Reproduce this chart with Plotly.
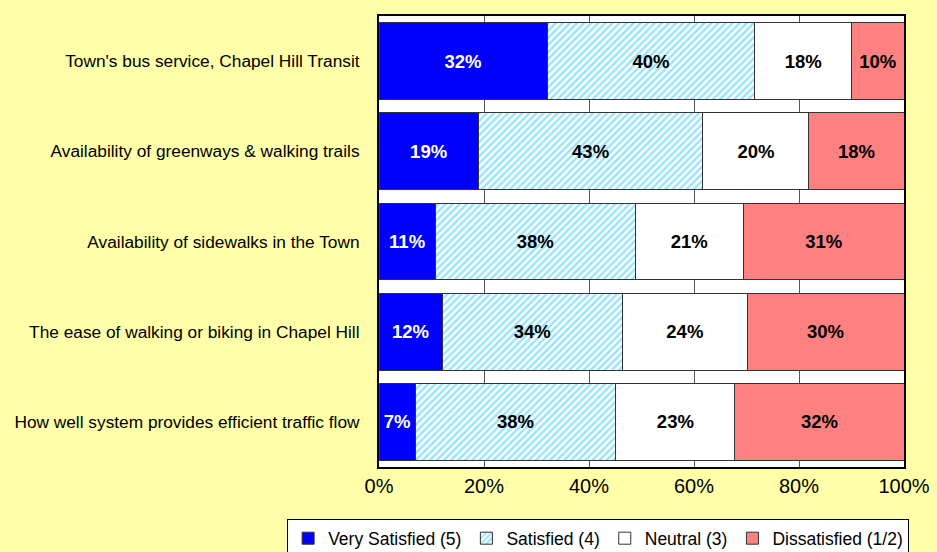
import plotly.graph_objects as go

categories = [
    "Town's bus service, Chapel Hill Transit",
    "Availability of greenways & walking trails",
    "Availability of sidewalks in the Town",
    "The ease of walking or biking in Chapel Hill",
    "How well system provides efficient traffic flow",
]
very_satisfied = [32.0, 18.9, 10.7, 12.0, 6.9]
satisfied = [39.6, 42.8, 38.1, 34.4, 38.2]
neutral = [18.4, 20.2, 20.6, 23.7, 22.7]
dissatisfied = [10.0, 18.1, 30.6, 29.9, 32.2]
series_names = ["Very Satisfied (5)", "Satisfied (4)", "Neutral (3)", "Dissatisfied (1/2)"]
tick_vals = [0, 20, 40, 60, 80, 100]
tick_text = ["0%", "20%", "40%", "60%", "80%", "100%"]

fig = go.Figure()
line = dict(color="#333333", width=1)
font_bold = dict(family="Liberation Sans, Arial", size=18.5)

common = dict(orientation="h", texttemplate="<b>%{x:.0f}%</b>", textposition="inside",
              insidetextanchor="middle", constraintext="none")

fig.add_trace(go.Bar(
    y=categories, x=very_satisfied, name=series_names[0],
    marker=dict(color="#0000FF", line=line),
    textfont=dict(color="white", **font_bold), **common,
))
fig.add_trace(go.Bar(
    y=categories, x=satisfied, name=series_names[1],
    marker=dict(color="white", line=line,
                pattern=dict(shape="/", fgcolor="#33CCFF", bgcolor="white", size=5, solidity=0.5)),
    textfont=dict(color="black", **font_bold), **common,
))
fig.add_trace(go.Bar(
    y=categories, x=neutral, name=series_names[2],
    marker=dict(color="white", line=line),
    textfont=dict(color="black", **font_bold), **common,
))
fig.add_trace(go.Bar(
    y=categories, x=dissatisfied, name=series_names[3],
    marker=dict(color="#FF8080", line=line),
    textfont=dict(color="black", **font_bold), **common,
))

fig.update_layout(
    barmode="stack",
    bargap=0.15,
    width=937, height=552,
    margin=dict(l=379, r=33, t=16, b=85, autoexpand=False),
    paper_bgcolor="#FFFFAA",
    plot_bgcolor="white",
    font=dict(family="Liberation Sans, Arial", color="black"),
    legend=dict(
        orientation="h", xref="paper", yref="paper",
        x=-0.175, xanchor="left", y=-0.116, yanchor="top",
        bgcolor="white", bordercolor="black", borderwidth=1,
        font=dict(size=17.5), traceorder="normal",
        itemwidth=30, tracegroupgap=0,
    ),
    showlegend=True,
)
fig.update_xaxes(
    range=[0, 100], tickvals=tick_vals, ticktext=tick_text,
    tickfont=dict(size=20), showgrid=True, gridcolor="#555555", gridwidth=1,
    showline=True, linecolor="black", linewidth=2, mirror=True, zeroline=False,
    ticks="", fixedrange=True, automargin=False,
)
fig.update_yaxes(
    autorange="reversed", tickfont=dict(size=17.3),
    showline=True, linecolor="black", linewidth=2, mirror=True,
    ticks="", ticklabelstandoff=14, fixedrange=True, automargin=False,
)

fig.write_html("out.html", config={"displayModeBar": False},
               post_script="document.body.style.margin='0';")
